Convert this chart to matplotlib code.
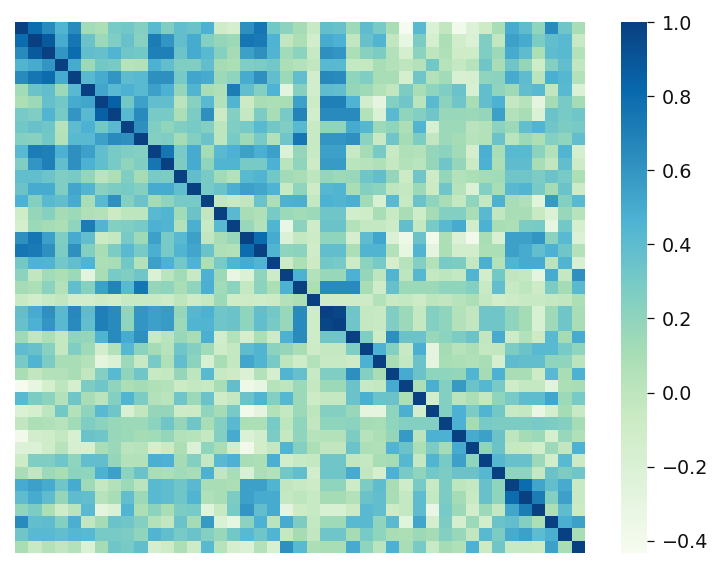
import numpy as np
import matplotlib
matplotlib.use('Agg')
import matplotlib.pyplot as plt
import seaborn as sns

######## upper triangle of the correlation matrix, row by row ########
r00 = [.8,.65,.45,.65,.13,.08,.3,.32,.25,.42,.27,.38,.35,.47,-.1,-.15,.62,.75,.32,.22,.12,-.05,.38,.36,.14,.4,.3,.1,-.42,.42,-.2,-.02,-.38,-.22,-.08,.1,.5,.4,.2,.65,.33,.1]
r01 = [.88,.5,.75,.35,.15,.27,.36,.23,.72,.6,.38,.5,.25,.18,.15,.75,.73,.46,-.02,.08,-.12,.5,.47,-.02,.36,.45,-.02,-.3,.28,-.15,.08,-.12,-.2,.27,-.02,.55,.5,.28,.38,.42,-.05]
r02 = [.6,.8,.38,.37,.45,.33,.32,.7,.7,.34,.5,.42,.24,.12,.55,.62,.45,.13,.22,-.05,.62,.6,.08,.23,.28,.05,-.15,.22,0,.07,-.1,-.1,.27,.15,.5,.4,.08,.4,.42,.05]
r03 = [.5,.15,.32,.3,.03,.05,.47,.38,.27,.27,.38,.12,.08,.27,.28,.32,.08,.05,-.02,.42,.42,-.03,-.03,.1,.05,0,.05,.32,.03,-.03,.03,.33,.1,.33,.18,-.1,.25,.38,-.02]
r04 = [.42,.5,.6,.4,.42,.62,.62,.3,.52,.5,.15,.2,.5,.62,.38,.15,.38,-.12,.66,.65,.2,.27,.1,.1,-.15,.33,.05,.13,-.18,-.17,.2,.22,.5,.4,.02,.48,.43,.05]
r05 = [.52,.42,.47,.42,.55,.47,.18,.45,.1,.07,.72,.38,.25,.46,-.27,.24,-.12,.4,.38,.18,.14,.05,-.02,.28,.1,.2,.27,.35,-.18,.38,.2,.14,.38,.42,-.02,.42,-.2]
r06 = [.85,.32,.55,.38,.38,.02,.23,.42,.05,.45,-.07,.1,.08,.1,.55,-.08,.7,.7,.46,-.12,-.28,.25,.33,.02,.42,.22,.33,.1,.38,.47,-.03,.03,-.28,.12,.3,.12]
r07 = [.42,.65,.3,.3,.08,.28,.62,-.07,.25,-.03,.28,.1,.3,.68,-.13,.65,.65,.65,.05,-.2,.42,.2,.25,.33,.17,.17,.16,.18,.55,.05,.1,-.2,.35,.3,.33]
r08 = [.62,.27,.2,.27,.3,.25,0,.27,.3,.42,.32,.27,.42,-.05,.2,.2,.5,.43,.15,.2,.08,.45,-.18,.15,.15,.02,.05,.22,.15,.38,.45,.33,.28,.3]
r09 = [.25,.27,.12,.25,.35,0,.3,.14,.3,.05,.33,.75,-.05,.6,.6,.62,.22,-.05,.33,.12,.28,-.02,.15,.12,.03,.05,.35,.02,.15,.08,.25,.2,.38]
r10 = [.75,.3,.5,.12,.42,.47,.55,.48,.55,-.2,.18,-.05,.55,.55,-.05,.12,.3,-.05,.07,.05,.18,.22,.13,-.15,.48,.1,.42,.42,.22,.05,.45,-.15]
r11 = [.28,.5,.2,.45,.45,.3,.3,.47,.02,.2,-.08,.57,.57,.02,.03,.07,-.03,.05,.02,.18,.33,.18,-.07,.47,.08,.4,.4,.1,-.02,.38,-.08]
r12 = [.38,.3,.13,.05,.42,.45,.32,.13,.1,0,.18,.15,.17,.33,.38,.18,-.07,.33,-.08,.18,.05,.08,.12,.13,.33,.33,.28,.35,.3,.08]
r13 = [.3,.35,.48,.55,.52,.46,-.05,.2,-.08,.43,.45,.1,.25,.22,0,-.03,.15,-.07,.33,.03,-.2,.25,.1,.42,.45,.3,.12,.35,-.08]
r14 = [-.02,-.05,-.02,.35,.08,.47,.48,-.03,.47,.45,.48,.13,-.18,.42,-.05,.35,.2,.1,-.03,.2,-.03,.47,.1,.07,-.25,.58,.25,.42]
r15 = [.42,.1,.07,.3,.15,.13,.15,.33,.33,-.12,-.1,.1,-.05,.1,-.1,.12,.25,.25,.1,.42,-.02,.1,.1,-.05,-.2,.17,.03]
r16 = [.17,.05,.45,-.32,.22,-.1,.35,.35,.05,-.03,-.03,-.08,.38,-.03,.3,.42,.5,-.13,.47,.1,.08,.28,.3,-.3,.32,-.15]
r17 = [.8,.5,-.2,-.03,-.08,.2,.2,-.15,.4,.52,-.2,-.35,.35,-.38,.08,-.2,-.38,.1,-.18,.55,.55,.6,.22,.42,-.2]
r18 = [.45,.2,.22,-.1,.38,.38,.08,.45,.45,.05,-.3,.45,-.28,.08,-.13,-.13,.08,.08,.55,.5,.38,.47,.33,.05]
r19 = [-.08,.08,-.07,.32,.3,-.08,.22,.3,-.15,.03,.25,.05,.3,.28,-.03,.48,.05,.45,.5,.5,.02,.45,-.18]
r20 = [.47,.05,.17,.17,.47,.18,0,.45,0,.43,-.03,0,-.03,.45,-.13,.32,-.02,-.03,-.28,.5,-.03,.62]
r21 = [.08,.65,.65,.65,.1,-.1,.37,.15,.15,.15,.2,.2,.25,-.05,.38,-.05,0,-.08,.28,.12,.42]
r22 = [-.1,-.1,-.1,-.08,.05,-.05,-.03,-.08,0,-.02,.03,.08,-.03,-.12,-.08,-.05,-.05,-.03,-.02,.08]
r23 = [.97,.33,-.03,-.05,.27,.15,-.03,.25,.2,.05,-.02,.33,.33,.2,.12,-.18,.14,.33,.1]
r24 = [.33,-.03,-.05,.27,.15,-.03,.25,.2,.05,-.02,.33,.33,.2,.12,-.18,.14,.33,.1]
r25 = [.27,-.08,.63,.35,.35,.17,.22,.28,.35,-.02,.5,-.08,.05,-.07,.42,.12,.5]
r26 = [.47,.25,-.05,.48,-.28,.12,.03,.08,-.03,-.02,.28,.35,.42,.42,.3,.2]
r27 = [.1,-.03,.35,-.28,.1,.08,.07,.1,-.15,.4,.38,.38,.2,.2,.02]
r28 = [.5,.35,.2,.2,.18,.45,.12,.47,.1,.1,-.08,.42,.1,.47]
r29 = [.08,.48,.25,.58,.35,.43,.3,-.1,-.03,-.03,-.25,.08,.1]
r30 = [-.12,.25,.02,.08,-.03,.2,.3,.4,.4,.52,.15,.3]
r31 = [.25,.47,.28,.45,.32,-.05,-.03,-.32,-.15,.12,-.05]
r32 = [.47,.12,.3,.28,.28,.28,.3,.28,.25,.12,.05]
r33 = [.5,.55,.35,0,.12,.15,-.15,.17,.07]
r34 = [.2,.35,-.03,-.05,-.12,.15,-.02,.47]
r35 = [.43,.36,.36,.15,-.12,.42,-.07]
r36 = [.2,.2,-.03,.35,.28,.33]
r37 = [.8,.52,.38,.5,-.05]
r38 = [.72,.25,.55,-.05]
r39 = [.08,.4,-.07]
r40 = [.48,.55]
r41 = [.1]

upper = [r00,r01,r02,r03,r04,r05,r06,r07,r08,r09,r10,r11,r12,r13,r14,r15,r16,r17,r18,r19,r20,
         r21,r22,r23,r24,r25,r26,r27,r28,r29,r30,r31,r32,r33,r34,r35,r36,r37,r38,r39,r40,r41]

n = 43
corr = np.eye(n)
for i, row in enumerate(upper):
    vals = (list(row) + [0.2] * n)[:n - i - 1]
    if len(row) != n - i - 1:
        print('row', i, 'has', len(row), 'expected', n - i - 1)
    corr[i, i + 1:] = vals
    corr[i + 1:, i] = vals

W, H = 725, 569
fig = plt.figure(figsize=(W / 100, H / 100), dpi=100)
ax = fig.add_axes([15 / W, 1 - 553 / H, 570 / W, 531 / H])
cax = fig.add_axes([621 / W, 1 - 553 / H, 26 / W, 531 / H])

sns.heatmap(corr, cmap='GnBu', vmin=-0.433, vmax=1.0, ax=ax, cbar_ax=cax,
            xticklabels=False, yticklabels=False)

cax.set_yticks([-0.4, -0.2, 0.0, 0.2, 0.4, 0.6, 0.8, 1.0])
cax.tick_params(labelsize=13.8, length=4.8, width=0.9, pad=6, colors='#111111')

plt.savefig('out.png', dpi=100)
